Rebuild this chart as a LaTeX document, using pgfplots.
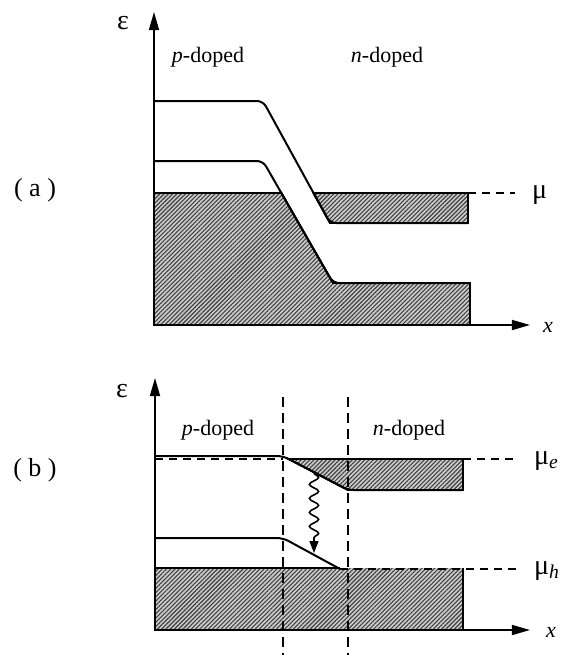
\documentclass[border=0pt]{standalone}
\usepackage{pgfplots}
\pgfplotsset{compat=1.18}
\usepackage{fontspec}
\setmainfont{Liberation Serif}
\usetikzlibrary{arrows.meta,patterns.meta,decorations.pathmorphing}

% band diagram styles
\tikzset{
  hatched/.style={fill=gray!40,
    postaction={pattern={Lines[angle=45,distance=1.5pt,line width=0.55pt]},
                pattern color=black!75}},
  band/.style={draw=black, line width=1pt, rounded corners=3pt},
  edge/.style={draw=black, line width=0.9pt},
  level/.style={draw=black, line width=0.8pt, dash pattern=on 4pt off 3pt},
  divider/.style={draw=black, line width=0.8pt, dash pattern=on 5pt off 3pt},
}
\pgfplotsset{
  band axis/.style={
    scale only axis, axis lines=left, anchor=south west,
    xtick=\empty, ytick=\empty, xmin=0, ymin=0, clip=false,
    axis line style={line width=0.8pt, -{Triangle[length=9pt,width=5pt]}},
    every outer x axis line/.append style={-{Triangle[length=9pt,width=5pt]}},
    every outer y axis line/.append style={-{Triangle[length=9pt,width=5pt]}},
  },
}
\newcommand{\greek}{\fontsize{14}{16}\selectfont}
\newcommand{\panel}{\fontsize{13}{15}\selectfont}

\begin{document}
\begin{tikzpicture}[font=\fontsize{11}{13}\selectfont]
\path[use as bounding box] (0pt,0pt) rectangle (282.5pt,-327.5pt);

% (a) junction in equilibrium
\begin{axis}[band axis, at={(77pt,-162.5pt)},
  xmax=376, ymax=313, width=188pt, height=156.5pt]
  \addplot[hatched, edge] coordinates {(0,132) (127.4,132) (179,42) (316,42) (316,0) (0,0)} -- cycle;
  \addplot[hatched, edge] coordinates {(159.5,132) (314,132) (314,102) (176,102)} -- cycle;
  \addplot[band] coordinates {(0,224) (109,224) (176,102) (314,102)};
  \addplot[band] coordinates {(0,164) (109,164) (179,42) (316,42)};
  \addplot[level] coordinates {(314,132) (361,132)};
  \node at (axis cs:-31,302) {\greek ε};
  \node at (axis cs:54,268) {\textit{p}-doped};
  \node at (axis cs:233,268) {\textit{n}-doped};
  \node at (axis cs:-119,135) {\panel( a )};
  \node[anchor=west] at (axis cs:371,130) {\greek μ};
  \node at (axis cs:394,-2) {\textit{x}};
\end{axis}

% (b) junction under forward bias
\begin{axis}[band axis, at={(77.5pt,-315pt)},
  xmax=375, ymax=252, width=187.5pt, height=126pt]
  \addplot[hatched, edge] coordinates {(133.7,171) (308,171) (308,140) (193,140)} -- cycle;
  \addplot[hatched, draw=none] coordinates {(0,62) (308,62) (308,0) (0,0)} -- cycle;
  \addplot[edge] coordinates {(185,62) (0,62) (0,0) (308,0) (308,62)};
  \addplot[band] coordinates {(0,174) (128,174) (193,140) (308,140)};
  \addplot[band] coordinates {(0,92) (128,92) (185,61)};
  \addplot[level] coordinates {(0,171) (128,171)};
  \addplot[level] coordinates {(308,171) (363,171)};
  \addplot[level] coordinates {(185,61) (363,61)};
  \addplot[divider] coordinates {(128,233) (128,-25)};
  \addplot[divider] coordinates {(193,233) (193,-25)};
  \addplot[draw=black, line width=0.8pt,
    decoration={snake, amplitude=2.3pt, segment length=7pt, post length=6pt},
    decorate, -{Triangle[length=6pt,width=4.5pt]}]
    coordinates {(159,157) (159,77)};
  \node at (axis cs:-33,239) {\greek ε};
  \node at (axis cs:63,200) {\textit{p}-doped};
  \node at (axis cs:254,200) {\textit{n}-doped};
  \node at (axis cs:-120,160) {\panel( b )};
  \node[anchor=west] at (axis cs:372,169) {\greek μ\textsubscript{\textit{e}}};
  \node[anchor=west] at (axis cs:372,59) {\greek μ\textsubscript{\textit{h}}};
  \node at (axis cs:396,-2) {\textit{x}};
\end{axis}
\end{tikzpicture}
\end{document}
